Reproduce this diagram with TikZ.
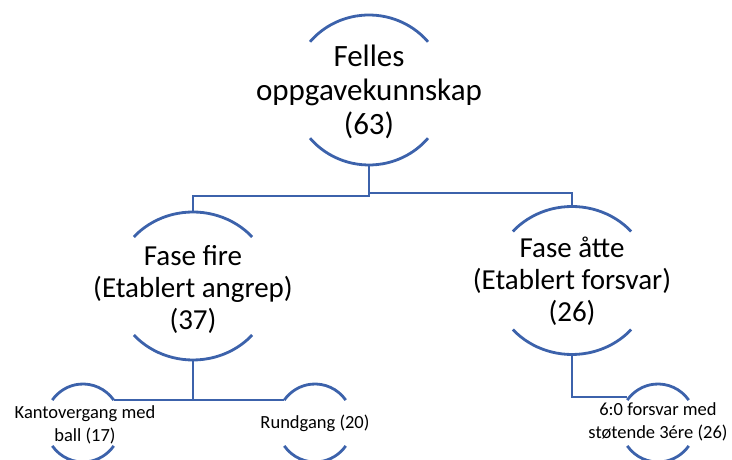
\documentclass[tikz,border=0pt]{standalone}
\usepackage{fontspec}
\setmainfont{Carlito}
\usetikzlibrary{calc,shapes.geometric}

\definecolor{linkblue}{HTML}{3C62AB}

% two facing arcs of an ellipse round a node: node, x radius, y radius, end angle
\newcommand{\arcpair}[4]{%
  \draw[arcline] ($(#1.center)+(#4:#2 and #3)$)
    arc[start angle=#4, end angle=180-#4, x radius=#2, y radius=#3];
  \draw[arcline] ($(#1.center)+(180+#4:#2 and #3)$)
    arc[start angle=180+#4, end angle=360-#4, x radius=#2, y radius=#3];
}

\tikzset{
  arcline/.style={draw=linkblue, line width=2.8pt},
  link/.style={draw=linkblue, line width=2.8pt},
  hnode/.style={ellipse, inner sep=0pt, outer sep=0pt},
  toplevel/.style={hnode, minimum width=154pt, minimum height=150pt},
  midlevel/.style={hnode, minimum width=158pt, minimum height=148pt},
  lowlevel/.style={hnode, minimum width=76pt, minimum height=78pt},
  txt/.style={align=center, text=black, inner sep=0pt},
  bigtxt/.style={txt, font=\fontsize{31}{34}\selectfont},
  midtxt/.style={txt, font=\fontsize{29}{32}\selectfont},
  smalltxt/.style={txt, font=\fontsize{18.5}{23}\selectfont},
}

\begin{document}
\begin{tikzpicture}[x=1pt, y=1pt]
  \useasboundingbox (0,0) rectangle (732,460);
  \clip (0,0) rectangle (732,460);

  % node outlines (for anchors)
  \node[toplevel] (top) at (369,370) {};
  \node[midlevel] (lm)  at (193,174) {};
  \node[midlevel] (rm)  at (572,179.5) {};
  \node[lowlevel] (b1)  at (83,37) {};
  \node[lowlevel] (b2)  at (315,37) {};
  \node[lowlevel] (b3)  at (658,37) {};

  % texts
  \node[bigtxt] (toptxt) at ($(top.center)+(0,-2)$) {Felles\\oppgavekunnskap\\(63)};
  \node[midtxt] (lmtxt) at ($(lm.center)+(0,-3)$) {Fase fire\\(Etablert angrep)\\(37)};
  \node[midtxt] (rmtxt) at ($(rm.center)+(0,-1)$) {Fase åtte\\(Etablert forsvar)\\(26)};
  \node[smalltxt] (b1txt) at ($(b1.center)+(2,-2)$) {Kantovergang med\\ball (17)};
  \node[smalltxt] (b2txt) at ($(b2.center)+(0,0)$) {Rundgang (20)};
  \node[smalltxt] (b3txt) at ($(b3.center)+(0,1)$) {6:0 forsvar med\\støtende 3ére (26)};

  % arcs
  \arcpair{top}{77pt}{75pt}{40}
  \arcpair{lm}{79pt}{74pt}{41.5}
  \arcpair{rm}{79pt}{74pt}{41.5}
  \arcpair{b1}{38pt}{39pt}{36}
  \arcpair{b2}{38pt}{39pt}{36}
  \arcpair{b3}{38pt}{39pt}{36}

  % arc ends used by the lowest connectors
  \coordinate (b1r) at ($(b1.center)+(36:38pt and 39pt)$);
  \coordinate (b2l) at ($(b2.center)+(144:38pt and 39pt)$);
  \coordinate (b3l) at ($(b3.center)+(144:38pt and 39pt)$);

  % connectors
  \draw[link] (top.south) -- ++(0,-31) -| (lm.north);
  \draw[link] (top.south) -- ++(0,-28) -| (rm.north);
  \draw[link] (b1r) -- (b2l);
  \draw[link] (lm.south) -- (lm.south |- b1r);
  \draw[link] (rm.south) |- ($(b3l)+(0,3)$);
\end{tikzpicture}
\end{document}
